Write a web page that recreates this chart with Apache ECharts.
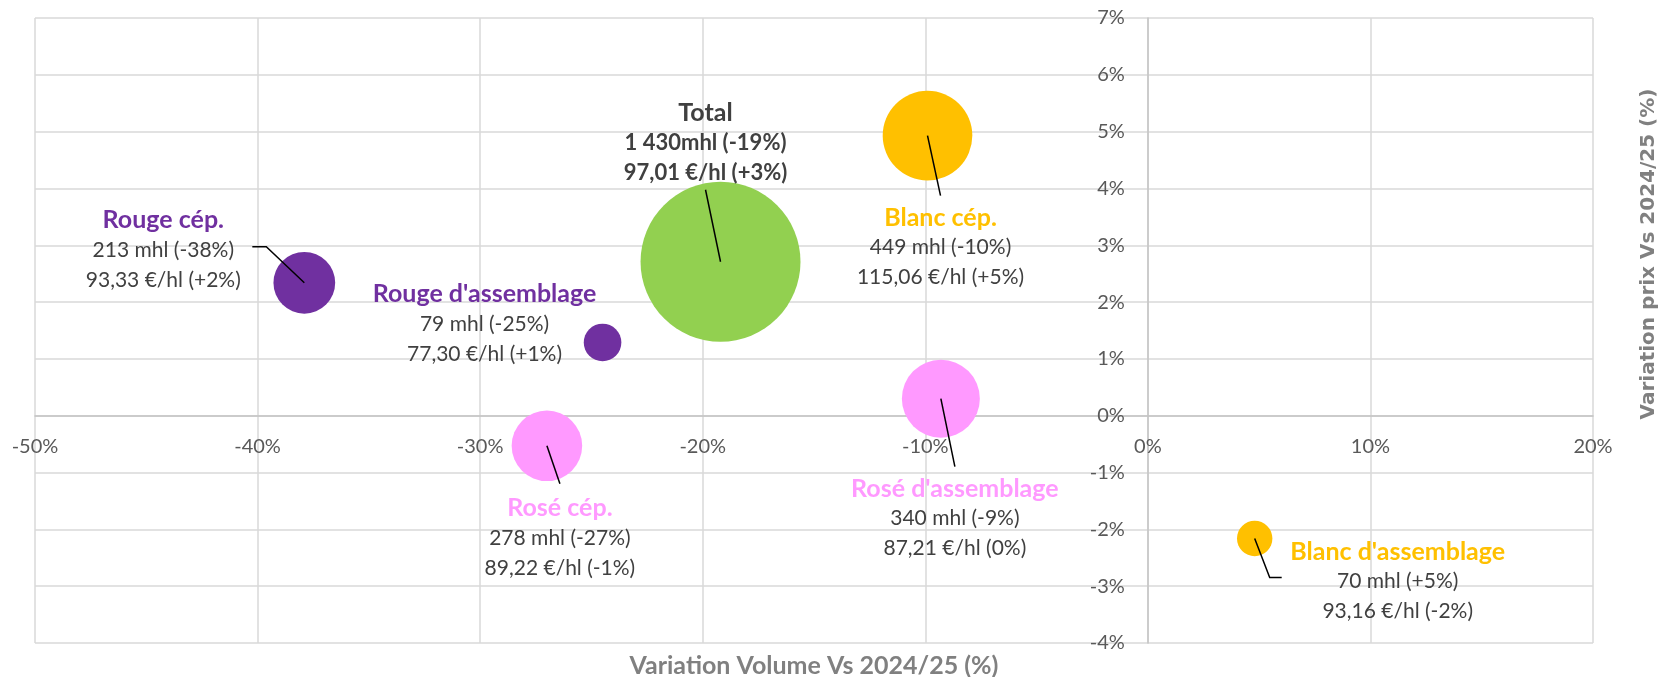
<!DOCTYPE html>
<html>
<head>
<meta charset="utf-8">
<script src="https://cdn.jsdelivr.net/npm/echarts@6/dist/echarts.min.js"></script>
<style>
  html, body { margin: 0; padding: 0; background: #fff; }
  #main { width: 1662px; height: 677px; }
</style>
</head>
<body>
<div id="main"></div>
<script>
// données
var names = ['Total', 'Rouge cép.', "Rouge d'assemblage", 'Blanc cép.', 'Rosé cép.', "Rosé d'assemblage", "Blanc d'assemblage"];
var volVar = [-19.2, -37.9, -24.5, -9.9, -27.0, -9.3, 4.8];      // variation volume (%)
var priceVar = [2.71, 2.34, 1.29, 4.93, -0.53, 0.30, -2.16];     // variation prix (%)
var volumes = [1430, 213, 79, 449, 278, 340, 70];                // mhl -> taille des bulles
var volText = ['1 430mhl (-19%)', '213 mhl (-38%)', '79 mhl (-25%)', '449 mhl (-10%)', '278 mhl (-27%)', '340 mhl (-9%)', '70 mhl (+5%)'];
var priceText = ['97,01 €/hl (+3%)', '93,33 €/hl (+2%)', '77,30 €/hl (+1%)', '115,06 €/hl (+5%)', '89,22 €/hl (-1%)', '87,21 €/hl (0%)', '93,16 €/hl (-2%)'];
var colors = ['#92D050', '#7030A0', '#7030A0', '#FFC000', '#FF99FF', '#FF99FF', '#FFC000'];
var xMin = -50, xMax = 20, xStep = 10;
var yMin = -4, yMax = 7, yStep = 1;

// placement des étiquettes (pixels, par rapport au centre de la bulle)
var labelOffset = [[-15, -119], [-141, -33], [-118, -18], [13, 112], [13, 92], [14, 120], [143, 43]];
var leaders = [
  [[0, 0], [-15, -72]],
  [[0, 0], [-38, -36], [-52, -36]],
  null,
  [[0, 0], [13, 60]],
  [[0, 0], [13, 38]],
  [[0, 0], [14, 68]],
  [[0, 0], [15, 39], [27, 39]]
];

// zone de tracé
var G = { left: 35, right: 69, top: 18, bottom: 34, w: 1662, h: 677 };
var plotW = G.w - G.left - G.right, plotH = G.h - G.top - G.bottom;
// décalage des axes pour qu'ils passent par 0
var xAxisOffset = -plotH * (0 - yMin) / (yMax - yMin);
var yAxisOffset = -plotW * (0 - xMin) / (xMax - xMin);

var FONT = 'Lato';
var bubbleData = names.map(function (n, i) {
  var bold = i === 0;
  return {
    name: n,
    value: [volVar[i], priceVar[i], volumes[i]],
    itemStyle: { color: colors[i], opacity: 1 },
    label: {
      show: true,
      position: 'inside',
      offset: labelOffset[i],
      formatter: '{t|' + n + '}\n{' + (bold ? 'b' : 'v') + '|' + volText[i] + '}\n{' + (bold ? 'b' : 'v') + '|' + priceText[i] + '}',
      rich: {
        t: { fontFamily: FONT, fontSize: 25, fontWeight: 'bold', color: bold ? '#404040' : colors[i], lineHeight: 30, align: 'center' },
        v: { fontFamily: FONT, fontSize: 21, color: '#404040', lineHeight: 30, align: 'center' },
        b: { fontFamily: FONT, fontSize: 22, fontWeight: 'bold', color: '#404040', lineHeight: 30, align: 'center' }
      }
    }
  };
});

var myChart = echarts.init(document.getElementById('main'));
var option = {
  animation: false,
  backgroundColor: '#fff',
  grid: { left: G.left, right: G.right, top: G.top, bottom: G.bottom, containLabel: false, outerBoundsMode: 'none' },
  xAxis: {
    type: 'value', min: xMin, max: xMax, interval: xStep,
    position: 'bottom', offset: xAxisOffset,
    axisLine: { show: true, onZero: false, lineStyle: { color: '#c4c4c4', width: 1.5 } },
    axisTick: { show: false },
    axisLabel: { margin: 21, fontFamily: FONT, fontSize: 20, color: '#595959', formatter: function (v) { return v + '%'; } },
    splitLine: { show: true, lineStyle: { color: '#d9d9d9', width: 1.5 } }
  },
  yAxis: {
    type: 'value', min: yMin, max: yMax, interval: yStep,
    position: 'left', offset: yAxisOffset,
    axisLine: { show: true, onZero: false, lineStyle: { color: '#c4c4c4', width: 1.5 } },
    axisTick: { show: false },
    axisLabel: { margin: 23, fontFamily: FONT, fontSize: 20, color: '#595959', formatter: function (v) { return v + '%'; } },
    splitLine: { show: true, lineStyle: { color: '#d9d9d9', width: 1.5 } }
  },
  graphic: [
    {
      type: 'text', x: G.left + plotW / 2, y: 666,
      style: { text: 'Variation Volume Vs 2024/25 (%)', fontFamily: FONT, fontSize: 25, fontWeight: 'bold', fill: '#808080', align: 'center', verticalAlign: 'middle' }
    },
    {
      type: 'text', x: 1649, y: 254, rotation: Math.PI / 2,
      style: { text: 'Variation prix Vs 2024/25 (%)', fontFamily: 'DejaVu Sans', fontSize: 20, fontWeight: 'bold', fill: '#808080', align: 'center', verticalAlign: 'middle' }
    }
  ],
  series: [
    {
      type: 'scatter',
      data: bubbleData,
      symbolSize: function (v) { return 4.23 * Math.sqrt(v[2]); },
      emphasis: { disabled: true },
      z: 2
    },
    {
      type: 'custom',
      data: names.map(function (n, i) { return [volVar[i], priceVar[i]]; }),
      renderItem: function (params, api) {
        var pts = leaders[params.dataIndex];
        if (!pts) return null;
        var c = api.coord([api.value(0), api.value(1)]);
        return {
          type: 'polyline',
          shape: { points: pts.map(function (p) { return [c[0] + p[0], c[1] + p[1]]; }) },
          style: { stroke: '#000', lineWidth: 1.5, fill: null }
        };
      },
      silent: true,
      z: 3
    }
  ]
};
myChart.setOption(option);
</script>
</body>
</html>
